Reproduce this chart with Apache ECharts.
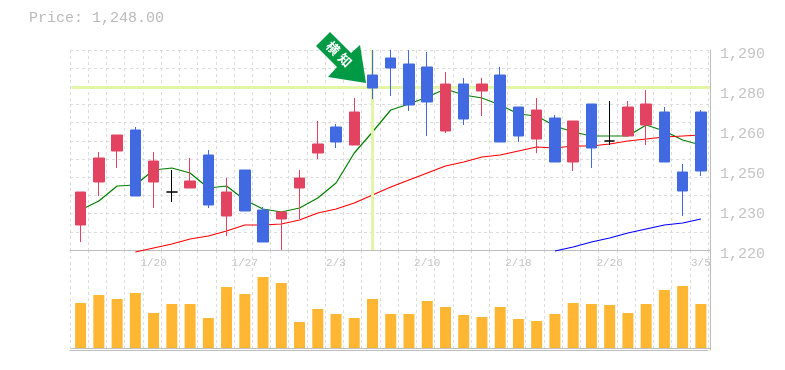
<!DOCTYPE html>
<html><head><meta charset="utf-8">
<style>html,body{margin:0;padding:0;background:#fff}#c{width:785px;height:370px}</style>
<script src="https://cdn.jsdelivr.net/npm/echarts@6/dist/echarts.min.js"></script>
</head><body><div id="c"></div>
<script>
const categories = ['1/14','1/15','1/16','1/17','1/20','1/21','1/22','1/23','1/24','1/27','1/28','1/29','1/30','1/31','2/3','2/4','2/5','2/6','2/7','2/10','2/12','2/13','2/14','2/17','2/18','2/19','2/20','2/21','2/25','2/26','2/27','2/28','3/3','3/4','3/5'];
// open, close, low, high
const candles = [
[1228.75,1240.3,1222.8,1240.3],[1243.8,1252.2,1238.9,1254.3],[1254.65,1260.25,1248.7,1260.25],[1262,1238.9,1238.9,1263.05],
[1243.8,1251.15,1234.7,1254.3],[1240.3,1240.3,1236.8,1248],[1241.7,1244.15,1241.7,1252.2],[1253.25,1235.75,1234.7,1255],
[1231.9,1240.3,1224.9,1245.2],[1248,1233.65,1233.65,1248],[1234,1222.8,1222.8,1235.05],[1230.85,1233.3,1220,1233.3],
[1241.7,1245.2,1230.85,1248],[1253.95,1257.1,1251.85,1265.15],[1263.05,1257.8,1255.7,1264.1],[1256.75,1268.3,1256.75,1273.2],
[1281.25,1276.7,1272.85,1290],[1287.2,1283.7,1273.9,1290],[1285.1,1270.75,1268.65,1290],[1284.05,1271.8,1259.9,1289.3],
[1261.65,1278.1,1260.95,1282.3],[1278.1,1265.85,1263.75,1280.2],[1275.65,1278.1,1266.9,1280.2],[1281.25,1257.8,1257.8,1284.05],
[1270.05,1259.9,1257.8,1270.05],[1258.85,1269,1253.95,1273.2],[1266.2,1250.8,1250.8,1267.25],[1250.8,1265.15,1247.65,1265.15],
[1271.1,1255.7,1248.7,1271.1],[1258.15,1258.15,1256.75,1272.15],[1259.9,1270.05,1259.9,1272.15],[1263.75,1271.1,1256.75,1276],
[1268.3,1250.8,1250.8,1270.05],[1247.3,1240.65,1231.9,1250.1],[1268.3,1247.65,1245.9,1269]];
const dojiIndexes = [5,29];
const maShort = [1234,1237.15,1242.4,1242.75,1248,1248.7,1246.95,1241.7,1242.4,1237.5,1234.35,1233.3,1234.7,1238.2,1243.45,1253.95,1261.3,1269,1271.1,1273.55,1276.35,1274.25,1273.2,1270.75,1267.6,1266.9,1263.4,1261.3,1259.9,1259.9,1259.9,1263.75,1261.65,1258.5,1256.75];
const maMid = [null,null,null,1219.3,1220.7,1222.1,1223.85,1224.9,1226.65,1228.75,1228.75,1229.1,1230.5,1232.95,1234.35,1236.45,1239.25,1242.05,1244.5,1246.95,1249.4,1250.8,1252.55,1253.25,1254.65,1256.05,1255.7,1256.4,1256.4,1257.1,1258.15,1258.85,1259.55,1259.9,1260.25];
const maLong = [null,null,null,null,null,null,null,null,null,null,null,null,null,null,null,null,null,null,null,null,null,null,null,null,null,null,1219.65,1221.05,1222.8,1224.2,1225.95,1227.35,1228.75,1229.45,1230.85];
const volumes = [45,53,49,55,35,44,44,30,61,54,71,65,26,39,34,30,49,34,34,47,41,33,31,41,29,27,34,45,44,43,35,44,58,62,44];
const priceTicks = ['1,220','1,230','1,250','1,260','1,280','1,290'];
const priceTitle = 'Price: 1,248.00';
const markerChars = ['横','知'];
const crossPrice = 1276.9;
const crossIndex = 16;

const FONT = '"Liberation Mono", monospace';
const GRID = '#dcdcdc', AXIS = '#bdbdbd', LABEL = '#c4c4c4', HL = '#e3f5a6';
const dashed = {show:true, lineStyle:{color:GRID, type:[3,3], width:1}};
const hidden = {show:false};
const baseLine = {show:true, lineStyle:{color:AXIS, width:1}};
const guideX = (gridIndex) => ({type:'category', gridIndex, data:categories, boundaryGap:true,
  axisLine:baseLine, axisTick:hidden, axisLabel:hidden, splitLine:Object.assign({interval:0}, dashed)});

const chart = echarts.init(document.getElementById('c'), null, {renderer:'canvas'});
chart.setOption({
  animation:false,
  backgroundColor:'#ffffff',
  title:{text:priceTitle, left:29, top:11, padding:0, textStyle:{fontFamily:FONT, fontSize:15, fontWeight:'normal', color:'#bbbbbb'}},
  grid:[
    {left:70, top:50, width:638, height:200},
    {left:70, top:250, width:638, height:100},
    {left:71.5, top:50, width:638.5, height:200},
    {left:71.5, top:250, width:638.5, height:100}
  ],
  xAxis:[
    guideX(0), guideX(1),
    {type:'category', gridIndex:2, data:categories, boundaryGap:true,
      axisLine:baseLine, axisTick:hidden, splitLine:hidden,
      axisLabel:{interval:(i)=>(i+1)%5===0, fontFamily:FONT, fontSize:11, color:LABEL, margin:8, hideOverlap:false}},
    {type:'category', gridIndex:3, data:categories, boundaryGap:true, axisLine:baseLine, axisTick:hidden, axisLabel:hidden, splitLine:hidden}
  ],
  yAxis:[
    {type:'value', gridIndex:0, min:0, max:11, interval:1, axisLine:hidden, axisTick:hidden, axisLabel:hidden, splitLine:dashed},
    {type:'value', gridIndex:1, min:0, max:1, axisLine:hidden, axisTick:hidden, axisLabel:hidden, splitLine:hidden},
    {type:'value', gridIndex:2, position:'right', min:1220, max:1290, interval:14, axisTick:hidden, splitLine:hidden,
      axisLine:baseLine,
      axisLabel:{fontFamily:FONT, fontSize:15, color:LABEL, margin:10, verticalAlign:'top', lineHeight:8,
        formatter:(v)=>priceTicks[Math.round((v-1220)/14)]}},
    {type:'value', gridIndex:3, position:'right', min:-2, max:98, axisLine:baseLine, axisTick:hidden, axisLabel:hidden, splitLine:hidden}
  ],
  series:[
    {type:'line', xAxisIndex:2, yAxisIndex:2, data:[], z:1, silent:true,
      markLine:{silent:true, symbol:'none', label:{show:false}, animation:false,
        lineStyle:{color:HL, width:3, type:'solid'},
        data:[{yAxis:crossPrice},{xAxis:categories[crossIndex]}]}},
    {type:'line', xAxisIndex:2, yAxisIndex:2, data:maShort, showSymbol:false, clip:false, z:2, lineStyle:{color:'#008000',width:1.2}},
    {type:'line', xAxisIndex:2, yAxisIndex:2, data:maMid, showSymbol:false, clip:false, z:3, lineStyle:{color:'#ff0000',width:1.2}},
    {type:'line', xAxisIndex:2, yAxisIndex:2, data:maLong, showSymbol:false, clip:false, z:3, lineStyle:{color:'#0000ff',width:1.2}},
    {type:'candlestick', xAxisIndex:2, yAxisIndex:2, barWidth:11, z:5, clip:true,
      itemStyle:{color:'#e24361', color0:'#4169e1', borderColor:'#e24361', borderColor0:'#4169e1', borderWidth:1},
      data:candles.map((c,i)=>dojiIndexes.includes(i)
        ? {value:c, itemStyle:{color:'#000',color0:'#000',borderColor:'#000',borderColor0:'#000',borderColorDoji:'#000'}}
        : c)},
    {type:'bar', xAxisIndex:3, yAxisIndex:3, data:volumes, barWidth:11, itemStyle:{color:'#ffb733'}, z:2}
  ],
  graphic:[
    {type:'polygon', z:100, shape:{points:[[330,32],[316,46],[337,67],[328,77],[366,83],[360,45],[351,53]]}, style:{fill:'#009944'}},
    {type:'text', z:101, x:333, y:48, rotation:-Math.PI/4,
      style:{text:markerChars[0], fill:'#fff', font:'bold 13px "Noto Sans CJK JP"', align:'center', verticalAlign:'middle'}},
    {type:'text', z:101, x:345, y:60, rotation:-Math.PI/4,
      style:{text:markerChars[1], fill:'#fff', font:'bold 13px "Noto Sans CJK JP"', align:'center', verticalAlign:'middle'}}
  ]
});
</script></body></html>
